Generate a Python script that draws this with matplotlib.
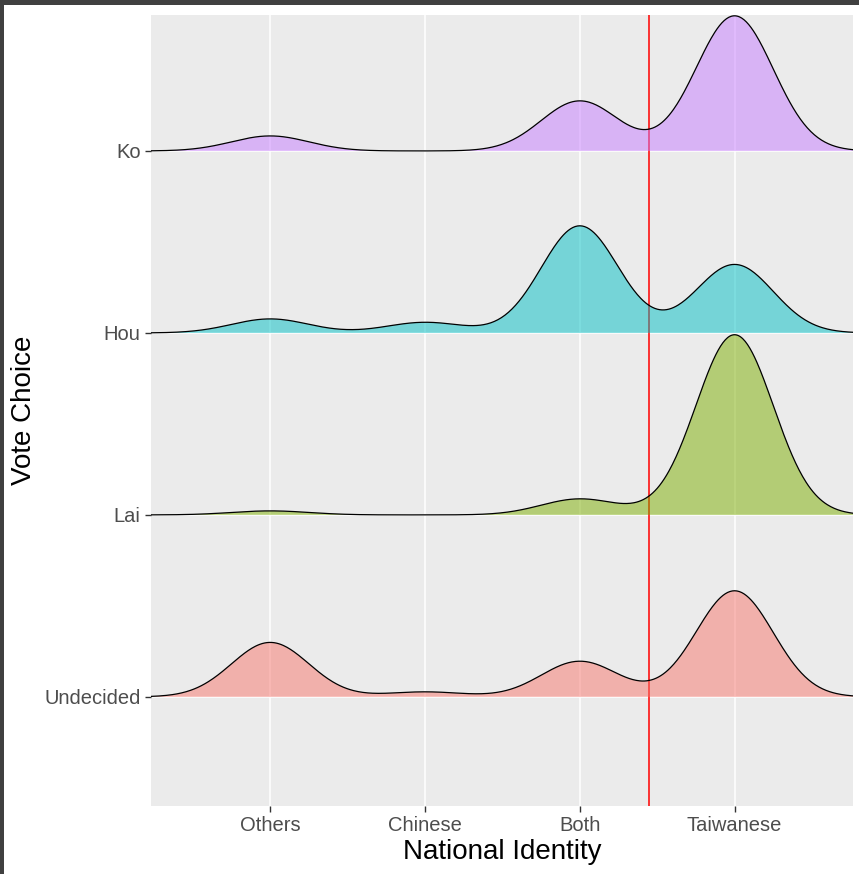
import numpy as np
import matplotlib
matplotlib.use("Agg")
import matplotlib.pyplot as plt
from matplotlib.patches import Rectangle

# ---- data ----
identity_labels = ["Others", "Chinese", "Both", "Taiwanese"]
identity_codes = [1, 2, 3, 4]
vote_choices = ["Undecided", "Lai", "Hou", "Ko"]          # bottom to top
# share of each identity within each vote choice (read from the ridge heights)
share_undecided = [0.272, 0.025, 0.178, 0.530]
share_lai = [0.020, 0.000, 0.080, 0.900]
share_hou = [0.070, 0.053, 0.535, 0.342]
share_ko = [0.075, 0.000, 0.250, 0.675]
shares = [share_undecided, share_lai, share_hou, share_ko]
bandwidth = 0.25          # joint KDE bandwidth
mean_identity = 3.45      # red reference line
fill_colors = ["#F8766D", "#7CAE00", "#00BFC4", "#C77CFF"]

# ---- figure ----
W, H, DPI = 859, 874, 100
fig = plt.figure(figsize=(W / DPI, H / DPI), dpi=DPI)
fig.patch.set_facecolor("white")
# dark screenshot frame at top and left
fig.patches.append(Rectangle((0, 1 - 5 / H), 1, 5 / H, transform=fig.transFigure,
                             facecolor="#404040", edgecolor="none", zorder=10))
fig.patches.append(Rectangle((0, 0), 4 / W, 1, transform=fig.transFigure,
                             facecolor="#404040", edgecolor="none", zorder=10))

left, right, top, bottom = 151, 853, 15, 805.5
ax = fig.add_axes([left / W, 1 - bottom / H, (right - left) / W, (bottom - top) / H])
ax.set_facecolor("#EBEBEB")
for s in ax.spines.values():
    s.set_visible(False)

xmin, xmax = 0.23, 4.765
ymin, ymax = 0.403, 4.747
ax.set_xlim(xmin, xmax)
ax.set_ylim(ymin, ymax)

# gridlines
for xc in identity_codes:
    ax.axvline(xc, color="white", lw=1.1, zorder=0)
for i in range(len(vote_choices)):
    ax.axhline(i + 1, color="white", lw=1.1, zorder=0)

ax.axvline(mean_identity, color="#FF0000", lw=1.1, zorder=1)

# KDE from shares
xs = np.linspace(xmin, xmax, 600)
dens = []
for sh in shares:
    d = np.zeros_like(xs)
    for c, w in zip(identity_codes, sh):
        d += w * np.exp(-0.5 * ((xs - c) / bandwidth) ** 2) / (bandwidth * np.sqrt(2 * np.pi))
    dens.append(d)
gmax = max(d.max() for d in dens)
scale = 0.99 / gmax

n = len(vote_choices)
for i in reversed(range(n)):
    base = i + 1
    y = base + dens[i] * scale
    z = 2 + (n - i) * 2
    ax.fill_between(xs, base, y, facecolor=fill_colors[i], alpha=0.5, edgecolor="none", zorder=z)
    ax.plot(xs, y, color="black", lw=0.9, zorder=z + 1)

ax.set_xticks(identity_codes)
ax.set_xticklabels(identity_labels)
ax.set_yticks(range(1, n + 1))
ax.set_yticklabels(vote_choices)
ax.tick_params(axis="both", length=4.5, width=1.0, color="#333333", labelcolor="#4D4D4D",
               labelsize=14.5, pad=3)
for lab in ax.get_xticklabels() + ax.get_yticklabels():
    lab.set_family("Liberation Sans")

ax.set_xlabel("National Identity", fontsize=20, family="Liberation Sans", color="black", labelpad=3)
ax.set_ylabel("Vote Choice", fontsize=20, family="Liberation Sans", color="black", labelpad=5)

fig.savefig("out.png", dpi=DPI)
